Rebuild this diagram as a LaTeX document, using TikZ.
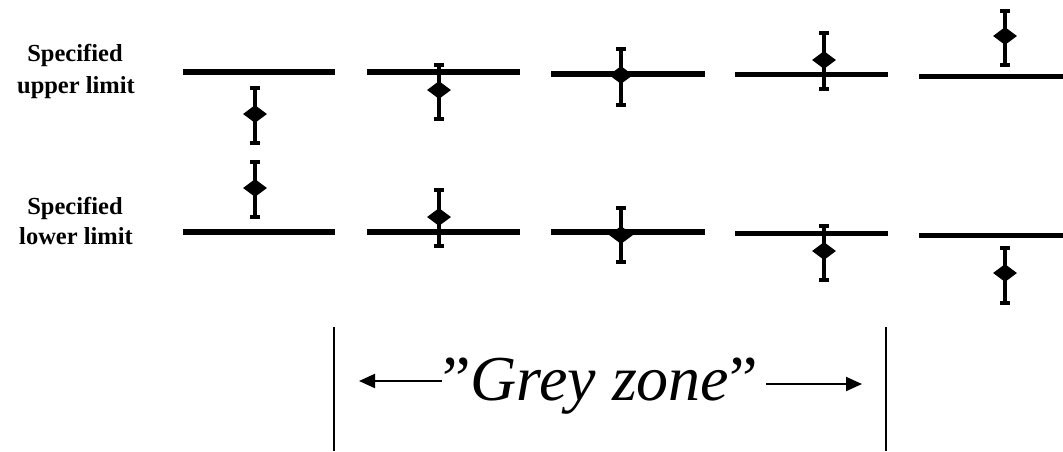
\documentclass[tikz,border=0pt]{standalone}
\usepackage{fontspec}
\setmainfont{Liberation Serif}
\usetikzlibrary{shapes.geometric,arrows.meta}
\tikzset{
  limitline/.style={line width=#1},
  ebar/.style={line width=3.5pt},
  ecap/.style={line width=3.5pt},
  mk/.style={diamond,fill=black,draw=none,inner sep=0pt,minimum width=24pt,minimum height=18pt},
  lbl/.style={font=\bfseries\fontsize{24.5}{28}\selectfont,align=center,inner sep=0pt},
  zone/.style={line width=1.5pt},
  garrow/.style={line width=2pt,-{Triangle[length=16pt,width=14pt]}},
}
\newcommand{\errbar}[5]{% name, x, top, mid, bottom
  \coordinate (#1t) at (#2,#3);
  \coordinate (#1b) at (#2,#5);
  \draw[ebar] (#1t) -- (#1b);
  \draw[ecap] ([xshift=-5pt]#1t) -- ([xshift=5pt]#1t);
  \draw[ecap] ([xshift=-5pt]#1b) -- ([xshift=5pt]#1b);
  \node[mk] (#1m) at (#2,#4) {};
}
\begin{document}
\begin{tikzpicture}[x=1pt,y=-1pt]
\useasboundingbox (0,0) rectangle (1063,451);
% labels
\node[lbl,anchor=base] (su1) at (75,61) {Specified};
\node[lbl,anchor=base] (su2) at (76,93) {upper limit};
\node[lbl,anchor=base] (sl1) at (75,214) {Specified};
\node[lbl,anchor=base] (sl2) at (76,244) {lower limit};
% limit lines
\draw[limitline=6pt] (183,72) -- (335,72);
\draw[limitline=6pt] (367,72) -- (520,72);
\draw[limitline=6pt] (551,74) -- (705,74);
\draw[limitline=5pt] (735,74) -- (888,74);
\draw[limitline=5pt] (919,76) -- (1063,76);
\draw[limitline=6pt] (183,232) -- (335,232);
\draw[limitline=6pt] (367,232) -- (520,232);
\draw[limitline=6pt] (551,232) -- (705,232);
\draw[limitline=5pt] (735,233) -- (888,233);
\draw[limitline=5pt] (919,235) -- (1063,235);
% error bars
\errbar{ua}{255}{88}{114}{143}
\errbar{la}{255}{162}{188}{217}
\errbar{ub}{439}{65}{90}{119}
\errbar{lb}{439}{190}{217}{246}
\errbar{uc}{621}{49}{75}{105}
\errbar{lc}{621}{208}{235}{262}
\errbar{ud}{824}{33}{60}{89}
\errbar{ld}{824}{226}{251}{280}
\errbar{ue}{1005}{11}{36}{65}
\errbar{le}{1005}{248}{273}{303}
% grey zone
\coordinate (zl1) at (334,327);
\coordinate (zl2) at (334,451);
\coordinate (zr1) at (886,327);
\coordinate (zr2) at (886,451);
\draw[zone] (zl1) -- (zl2);
\draw[zone] (zr1) -- (zr2);
\node[anchor=base,inner sep=0pt,font=\fontsize{64}{70}\selectfont] (gz) at (600,400) {”\textit{Grey zone}”};
\coordinate (al) at (359,381);
\coordinate (ar) at (862,384);
\draw[garrow] (gz.west |- al) -- (al);
\draw[garrow] ([xshift=8pt]gz.east |- ar) -- (ar);
\end{tikzpicture}
\end{document}
